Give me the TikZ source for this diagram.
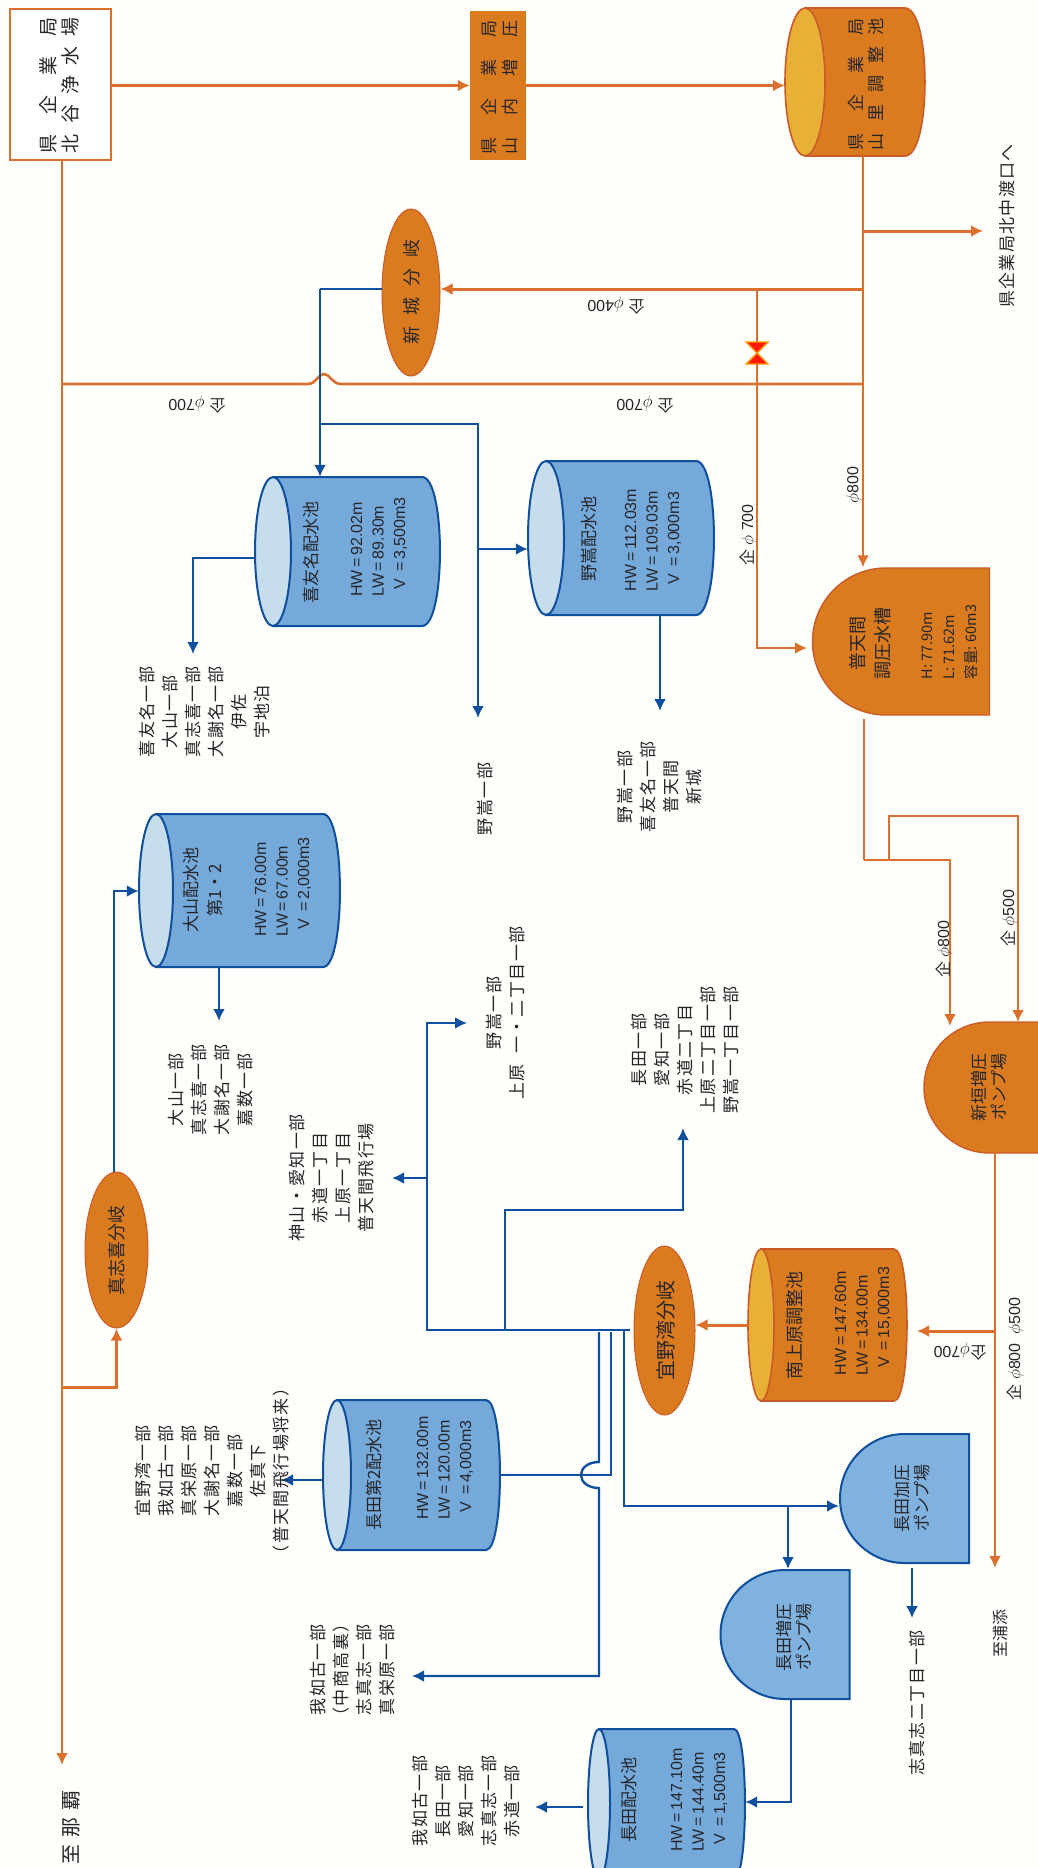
\documentclass[tikz,border=0pt]{standalone}
\usepackage{fontspec}
\setmainfont{Noto Sans CJK JP}
\newfontfamily\spacedfont[LetterSpace=8]{Noto Sans CJK JP}
\newfontfamily\cjkfont{Noto Sans CJK JP}
\newfontfamily\latinfont{Liberation Sans}
\usetikzlibrary{arrows.meta, shapes.geometric, shapes.misc}
\definecolor{kblue}{HTML}{0F4F9E}
\definecolor{kbody}{HTML}{74A9DA}
\definecolor{kend}{HTML}{C6DDEC}
\definecolor{kcyan}{HTML}{7FB2DE}
\definecolor{korange}{HTML}{DB6F2C}
\definecolor{kedge}{HTML}{CC5A28}
\definecolor{kfill}{HTML}{DA7B20}
\definecolor{kgold}{HTML}{E8B036}
\definecolor{kink}{HTML}{26262A}
\definecolor{kpaper}{HTML}{FEFEFB}
\tikzset{
  pipeo/.style={draw=korange, line width=2.4pt},
  pipeb/.style={draw=kblue, line width=2.4pt},
  pipetip/.style={-{Latex[length=12pt,width=12pt]}},
  tankbox/.style={rectangle, inner sep=0pt},
  bluebody/.style={draw=kblue, line width=2pt, fill=kbody},
  blueend/.style={draw=kblue, line width=2pt, fill=kend},
  orangebody/.style={draw=kedge, line width=1.6pt, fill=kfill},
  orangeend/.style={draw=kedge, line width=1.6pt, fill=kgold},
  bluedome/.style={rounded rectangle, rounded rectangle east arc=none, inner sep=0pt, draw=kblue, line width=2pt, fill=kcyan},
  orangedome/.style={rounded rectangle, rounded rectangle east arc=none, inner sep=0pt, draw=kedge, line width=1.4pt, fill=kfill},
  branchnode/.style={ellipse, inner sep=0pt, draw=kedge, line width=1pt, fill=kfill},
  arealabel/.style={rotate=90, align=center, inner sep=0pt, text=kink, font=\fontsize{17}{23}\selectfont\spacedfont},
  inname/.style={rotate=90, align=center, inner sep=0pt, text=kink, font=\fontsize{17}{23}\selectfont},
  spec/.style={rotate=90, align=left, inner sep=0pt, text=kink, font=\fontsize{16}{21.5}\selectfont\latinfont},
  pipesize/.style={inner sep=0pt, text=kink, font=\fontsize{16}{20}\selectfont\latinfont}
}
\newcommand{\tank}[7]{%
  \node[tankbox, minimum width=#4pt, minimum height=#5pt] (#1) at (#2,#3) {};
  \draw[#7body] (#2-#4/2+#6,#3-#5/2) -- (#2+#4/2-#6,#3-#5/2)
    .. controls +(1.33*#6,0) and +(1.33*#6,0) .. (#2+#4/2-#6,#3+#5/2)
    -- (#2-#4/2+#6,#3+#5/2) -- cycle;
  \draw[#7end] (#2-#4/2+#6,#3) ellipse [x radius=#6, y radius=#5/2];
}
\newcommand{\kig}{{\cjkfont 企}}
\begin{document}
\begin{tikzpicture}[x=1pt, y=-1pt]
\useasboundingbox (0,0) rectangle (1038,1868);
\clip (0,0) rectangle (1038,1868);
\fill[kpaper] (0,0) rectangle (1038,1868);

\node[draw=korange, line width=1.6pt, fill=white, minimum width=101pt, minimum height=151pt, inner sep=0pt] (hokutan) at (60.5,84.5) {};
\node[fill=kfill, minimum width=56pt, minimum height=149pt, inner sep=0pt] (naigai) at (498,85.5) {};
\tank{yamazato}{855}{82}{140}{148}{20}{orange}
\tank{kiyuna}{347.5}{551.5}{185}{149}{18}{blue}
\tank{nodake}{621}{538}{186}{154}{18}{blue}
\tank{oyama}{239.5}{890.5}{201}{153}{17}{blue}
\tank{nagata2}{411.5}{1475}{177}{150}{14}{blue}
\tank{nagata}{666.5}{1804}{157}{150}{11}{blue}
\tank{minamiue}{827.5}{1325}{159}{152}{13}{orange}
\node[orangedome, minimum width=177pt, minimum height=147pt] (futenma) at (901,641.5) {};
\node[orangedome, minimum width=136pt, minimum height=131pt] (aragaki) at (992,1087.5) {};
\node[bluedome, minimum width=105pt, minimum height=129pt] (kaatsu) at (904.5,1498.5) {};
\node[bluedome, minimum width=96pt, minimum height=129pt] (zouatsu) at (785,1634.5) {};
\node[branchnode, minimum width=58pt, minimum height=167pt] (shinjo) at (411,292.5) {};
\node[branchnode, minimum width=63pt, minimum height=156pt] (mashiki) at (116.5,1250) {};
\node[branchnode, minimum width=61pt, minimum height=169pt] (ginowan) at (664.5,1330.5) {};

\coordinate (spine) at (863,156);
\coordinate (tapout) at (863,231);
\coordinate (tapshinjo) at (863,289);
\coordinate (tapvalve) at (757,289);
\coordinate (tapcross) at (863,384);
\coordinate (valve) at (757,353);
\coordinate (tofutenma) at (807,648);
\coordinate (toout) at (983,231);
\coordinate (trunktop) at (62,160);
\coordinate (tonaha) at (62,1765);
\coordinate (forkmashiki) at (62,1387);
\coordinate (humpa) at (341,384);
\coordinate (humpb) at (308,384);
\coordinate (futenmaout) at (864,719);
\coordinate (forka) at (864,860);
\coordinate (forkb) at (889,860);
\coordinate (forkc) at (889,816);
\coordinate (forkd) at (1018,816);
\coordinate (toaragakia) at (950,1026);
\coordinate (toaragakib) at (1018,1022);
\coordinate (aragakiout) at (995,1153);
\coordinate (tominamiue) at (917,1331);
\coordinate (tourasoe) at (995,1568);

\draw[pipeo, line width=3.2pt, pipetip] (naigai.west -| hokutan.east) -- (naigai.west);
\draw[pipeo, line width=3.2pt, pipetip] (naigai.east) -- (yamazato.west |- naigai.east);
\draw[pipeo, pipetip] (spine) -- (spine |- futenma.north);
\draw[pipeo, line width=3pt, pipetip] (tapout) -- (toout);
\draw[pipeo, line width=3pt, pipetip] (tapshinjo) -- (shinjo.east |- tapshinjo);
\draw[pipeo, pipetip] (tapvalve) -- (tapvalve |- tofutenma) -- (tofutenma);
\draw[pipeo, line width=2.6pt] (tapcross) -- (humpa) .. controls (332,384) and (330,374) .. (324,374) .. controls (318,374) and (316,384) .. (humpb) -- (trunktop |- tapcross);
\draw[pipeo, pipetip] (trunktop) -- (tonaha);
\draw[pipeo, line width=3pt, pipetip] (forkmashiki) -- (mashiki.south |- forkmashiki) -- (mashiki.south);
\draw[pipeo] (futenmaout) -- (forka);
\draw[pipeo, pipetip] (forka) -- (forka -| toaragakia) -- (toaragakia);
\draw[pipeo, pipetip] (forkb) -- (forkc) -- (forkd) -- (toaragakib);
\draw[pipeo, pipetip] (aragakiout) -- (tourasoe);
\draw[pipeo, line width=3pt, pipetip] (aragakiout |- tominamiue) -- (tominamiue);
\draw[pipeo, line width=3pt, pipetip] (minamiue.west) -- (ginowan.east |- minamiue.west);
\draw[draw=orange!80!yellow, line width=1.4pt, fill=red!80!orange] (valve) ++(-11,-11) -- ++(22,0) -- ++(-22,22) -- ++(22,0) -- cycle;

\coordinate (shinjobend) at (320,289);
\coordinate (tapnodake) at (320,424);
\coordinate (nodakebend) at (478,424);
\coordinate (tonodake) at (478,549);
\coordinate (tonodakepart) at (478,718);
\coordinate (kiyunaout) at (254,558);
\coordinate (kiyunabend) at (193,558);
\coordinate (tokiyunapart) at (193,654);
\coordinate (nodakeout) at (660,615);
\coordinate (tonodakearea) at (660,711);
\coordinate (oyamabend) at (114,891);
\coordinate (oyamaout) at (219,967);
\coordinate (tooyamapart) at (219,1021);
\coordinate (ginowanout) at (630,1330);
\coordinate (westbend) at (427,1330);
\coordinate (westtop) at (427,1023);
\coordinate (toueharapart) at (467,1023);
\coordinate (tokamiyama) at (392,1178);
\coordinate (midfork) at (505,1330);
\coordinate (midbend) at (505,1210);
\coordinate (midend) at (683,1210);
\coordinate (tonagatapart) at (683,1128);
\coordinate (linea) at (611,1332);
\coordinate (lineaturn) at (611,1475);
\coordinate (lineb) at (599,1332);
\coordinate (linec) at (624,1331);
\coordinate (archigh) at (599,1462);
\coordinate (arclow) at (599,1488);
\coordinate (lineblow) at (599,1676);
\coordinate (towaga) at (412,1676);
\coordinate (linecbend) at (624,1506);
\coordinate (zouatsufork) at (788,1506);
\coordinate (kaatsuout) at (912,1568);
\coordinate (toshinshi) at (912,1618);
\coordinate (zouatsuout) at (791,1699);
\coordinate (zouatsubend) at (791,1802);
\coordinate (nagataout) at (583,1807);
\coordinate (tonagataarea) at (535,1807);
\coordinate (tonagata2area) at (281,1480);

\draw[pipeb] (shinjo.west |- shinjobend) -- (shinjobend);
\draw[pipeb, pipetip] (shinjobend) -- (shinjobend |- kiyuna.north);
\draw[pipeb, pipetip] (tapnodake) -- (nodakebend) -- (tonodakepart);
\draw[pipeb, pipetip] (tonodake) -- (tonodake -| nodake.west);
\draw[pipeb, pipetip] (kiyunaout) -- (kiyunabend) -- (tokiyunapart);
\draw[pipeb, pipetip] (nodakeout) -- (tonodakearea);
\draw[pipeb, pipetip] (mashiki.north -| oyamabend) -- (oyamabend) -- (oyama.west |- oyamabend);
\draw[pipeb, pipetip] (oyamaout) -- (tooyamapart);
\draw[pipeb, pipetip] (ginowanout) -- (westbend) -- (westtop) -- (toueharapart);
\draw[pipeb, pipetip] (westbend |- tokamiyama) -- (tokamiyama);
\draw[pipeb, pipetip] (midfork) -- (midbend) -- (midend) -- (tonagatapart);
\draw[pipeb] (linea) -- (lineaturn) -- (lineaturn -| nagata2.east);
\draw[pipeb, pipetip] (lineb) -- (archigh) .. controls (588,1462) and (581,1468) .. (581,1475) .. controls (581,1482) and (588,1488) .. (arclow) -- (lineblow) -- (towaga);
\draw[pipeb, pipetip] (linec) -- (linecbend) -- (kaatsu.west |- linecbend);
\draw[pipeb, pipetip] (zouatsufork) -- (zouatsufork |- zouatsu.north);
\draw[pipeb, pipetip] (kaatsuout) -- (toshinshi);
\draw[pipeb, pipetip] (zouatsuout) -- (zouatsubend) -- (zouatsubend -| nagata.east);
\draw[pipeb, pipetip] (nagataout) -- (tonagataarea);
\draw[pipeb, pipetip] (nagata2.west |- tonagata2area) -- (tonagata2area);

\node[inname, font=\fontsize{19}{22}\selectfont] (hokutantext) at (59,85) {\makebox[136pt][s]{県\hfil 企\hfil 業\hfil 局}\\\makebox[136pt][s]{北\hfil 谷\hfil 浄\hfil 水\hfil 場}};
\node[inname, font=\fontsize{17}{21}\selectfont] (naigaitext) at (499.5,87) {\makebox[134pt][s]{県\hfil 企\hfil 業\hfil 局}\\\makebox[134pt][s]{山\hfil 内\hfil 増\hfil 圧}};
\node[inname, font=\fontsize{17}{20}\selectfont] (yamazatotext) at (866,84) {\makebox[132pt][s]{県\hfil 企\hfil 業\hfil 局}\\\makebox[132pt][s]{山\hfil 里\hfil 調\hfil 整\hfil 池}};
\node[inname, font=\fontsize{18}{22}\selectfont] (shinjotext) at (412,292) {新\hspace{11pt}城\hspace{11pt}分\hspace{11pt}岐};
\node[inname, font=\fontsize{18}{22}\selectfont] (mashikitext) at (117,1250) {真志喜分岐};
\node[inname, font=\fontsize{20}{22}\selectfont] (ginowantext) at (666,1330) {宜野湾分岐};

\node[inname] (kiyunaname) at (311,552) {喜友名配水池};
\node[spec] (kiyunaspec) at (379,547) {HW\,=\,92.02m\\LW\,=\,89.30m\\\ \,V\ \,=\,3,500m3};
\node[inname] (nodakename) at (589,539) {野嵩配水池};
\node[spec] (nodakespec) at (653,540) {HW\,=\,112.03m\\LW\,=\,109.03m\\\ \,V\ \,=\,3,000m3};
\node[inname, font=\fontsize{17}{24}\selectfont] (oyamaname) at (203,890) {大山配水池\\第1・2};
\node[spec] (oyamaspec) at (283,887) {HW\,=\,76.00m\\LW\,=\,67.00m\\\ \,V\ \,=\,2,000m3};
\node[inname] (nagata2name) at (374,1475) {長田第2配水池};
\node[spec] (nagata2spec) at (445,1468) {HW\,=\,132.00m\\LW\,=\,120.00m\\\ \,V\ \,=\,4,000m3};
\node[inname] (nagataname) at (629,1800) {長田配水池};
\node[spec] (nagataspec) at (699,1800) {HW\,=\,147.10m\\LW\,=\,144.40m\\\ \,V\ \,=\,1,500m3};
\node[inname, font=\fontsize{18}{22}\selectfont] (minamiuename) at (795,1325) {南上原調整池};
\node[spec] (minamiuespec) at (863,1321) {HW\,=\,147.60m\\LW\,=\,134.00m\\\ \,V\ \,=\,15,000m3};
\node[inname, font=\fontsize{18}{25}\selectfont] (futenmaname) at (870.5,643) {普天間\\調圧水槽};
\node[spec, font=\fontsize{14.5}{22}\selectfont] (futenmaspec) at (950,642) {H: 77.90m\\L: 71.62m\\容量: 60m3};
\node[inname, font=\fontsize{17}{20}\selectfont] (aragakiname) at (989,1087) {新垣増圧\\ポンプ場};
\node[inname, font=\fontsize{17}{20}\selectfont] (kaatsuname) at (912,1498) {長田加圧\\ポンプ場};
\node[inname, font=\fontsize{17}{20}\selectfont] (zouatsuname) at (794,1637) {長田増圧\\ポンプ場};

\node[arealabel] (outtext) at (1007,226) {県企業局北中渡口へ};
\node[arealabel, font=\fontsize{20}{22}\selectfont] (nahatext) at (71,1827) {至\hspace{7pt}那\hspace{7pt}覇};
\node[arealabel, font=\fontsize{16}{22}\selectfont] (urasoetext) at (1000,1633) {至浦添};
\node[arealabel] (kiyunaarea) at (204.5,712) {喜友名一部\\大山一部\\真志喜一部\\大謝名一部\\伊佐\\宇地泊};
\node[arealabel] (oyamaarea) at (211,1090) {大山一部\\真志喜一部\\大謝名一部\\嘉数一部};
\node[arealabel] (nodakepart) at (485,799) {野嵩一部};
\node[arealabel] (nodakearea) at (660,787) {野嵩一部\\喜友名一部\\普天間\\新城};
\node[arealabel] (ueharaarea) at (506,1013) {野嵩一部\\上原\ \ 一・二丁目一部};
\node[arealabel] (kamiyamaarea) at (332,1178) {神山・愛知一部\\赤道一丁目\\上原一丁目\\普天間飛行場};
\node[arealabel] (nagatapart) at (685,1050) {長田一部\\愛知一部\\赤道二丁目\\上原二丁目一部\\野嵩一丁目一部};
\node[arealabel] (nagata2area) at (212,1471) {宜野湾一部\\我如古一部\\真栄原一部\\大謝名一部\\嘉数一部\\佐真下\\（普天間飛行場将来）};
\node[arealabel] (wagaarea) at (352.5,1670) {我如古一部\\（中商高裏）\\志真志一部\\真栄原一部};
\node[arealabel] (nagataarea) at (466,1801) {我如古一部\\長田一部\\愛知一部\\志真志一部\\赤道一部};
\node[arealabel] (shinshitext) at (917,1703) {志真志二丁目一部};

\node[pipesize, rotate=180] (sizea) at (197,405) {\kig\ $\phi$700};
\node[pipesize, rotate=180] (sizeb) at (645,405) {\kig\ $\phi$700};
\node[pipesize, rotate=180] (sizec) at (616,306) {\kig\ $\phi$400};
\node[pipesize, rotate=180] (sized) at (960,1352) {\kig$\phi$700};
\node[pipesize, rotate=90] (sizee) at (854,485) {$\phi$800};
\node[pipesize, rotate=90] (sizef) at (748,535) {\kig\ $\phi$\ 700};
\node[pipesize, rotate=90] (sizeg) at (944,949) {\kig\ $\phi$800};
\node[pipesize, rotate=90] (sizeh) at (1009,918) {\kig\ $\phi$500};
\node[pipesize, rotate=90] (sizei) at (1015,1349) {\kig\ $\phi$800\ \ $\phi$500};
\end{tikzpicture}
\end{document}
